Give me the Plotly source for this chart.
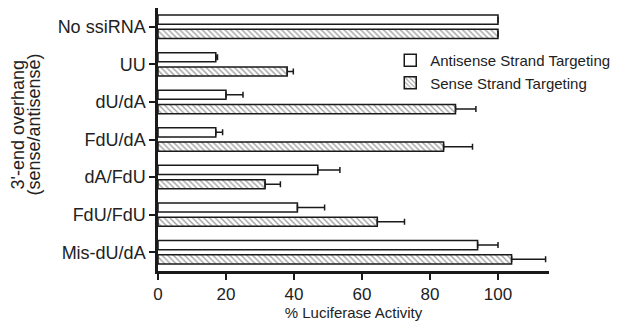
import plotly.graph_objects as go

categories = ["No ssiRNA", "UU", "dU/dA", "FdU/dA", "dA/FdU", "FdU/FdU", "Mis-dU/dA"]
antisense = [100, 17, 20, 17, 47, 41, 94]
antisense_err = [None, 0.5, 5, 2, 6.5, 8, 6]
sense = [100, 38, 87.5, 84, 31.5, 64.5, 104]
sense_err = [None, 1.8, 6, 8.5, 4.5, 8, 10]
x_ticks = [0, 20, 40, 60, 80, 100]

font_family = "Liberation Sans, Arial, sans-serif"
ink = "#1a1a1a"

fig = go.Figure()
fig.add_trace(go.Bar(
    name="Antisense Strand Targeting",
    y=categories, x=antisense, orientation="h",
    marker=dict(color="white", line=dict(color=ink, width=1.5)),
    error_x=dict(type="data", array=antisense_err, arrayminus=[0]*len(categories),
                 symmetric=False, color=ink, thickness=1.5, width=3),
))
fig.add_trace(go.Bar(
    name="Sense Strand Targeting",
    y=categories, x=sense, orientation="h",
    marker=dict(color="white", line=dict(color=ink, width=1.5),
                pattern=dict(shape="\\", fgcolor="#444", bgcolor="white", size=4, solidity=0.35)),
    error_x=dict(type="data", array=sense_err, arrayminus=[0]*len(categories),
                 symmetric=False, color=ink, thickness=1.5, width=3),
))

# page body has an 8px default margin, so the figure is 8px smaller than the window
fig.update_layout(
    width=616, height=313,
    margin=dict(l=150, r=75, t=0, b=50),
    barmode="group", bargap=0.24, bargroupgap=0.36,
    plot_bgcolor="white", paper_bgcolor="white",
    font=dict(family=font_family, color="#222", size=17),
    legend=dict(x=0.594, y=0.863, xanchor="left", yanchor="top",
                font=dict(size=15, color="#222"), bgcolor="rgba(0,0,0,0)",
                itemwidth=30),
    xaxis=dict(range=[0, 115], tickvals=x_ticks, showgrid=False, zeroline=False,
               automargin=False,
               showline=True, linecolor=ink, linewidth=2.5,
               ticks="outside", ticklen=6, tickwidth=2, tickcolor=ink,
               tickfont=dict(size=17),
               title=dict(text="% Luciferase Activity", font=dict(size=15), standoff=0)),
    yaxis=dict(range=[6.5, -0.5], showgrid=False, zeroline=False,
               automargin=False,
               showline=True, linecolor=ink, linewidth=2.5,
               ticks="outside", ticklen=6, tickwidth=2, tickcolor=ink,
               tickfont=dict(size=18)),
    annotations=[
        dict(text="3'-end overhang", textangle=-90,
             xref="paper", yref="paper", x=(10 - 150) / 391, y=0.557,
             xanchor="center", yanchor="middle", showarrow=False,
             font=dict(size=18, color="#222")),
        dict(text="(sense/antisense)", textangle=-90,
             xref="paper", yref="paper", x=(26 - 150) / 391, y=0.557,
             xanchor="center", yanchor="middle", showarrow=False,
             font=dict(size=18, color="#222")),
    ],
)

fig.write_html("out.html")
